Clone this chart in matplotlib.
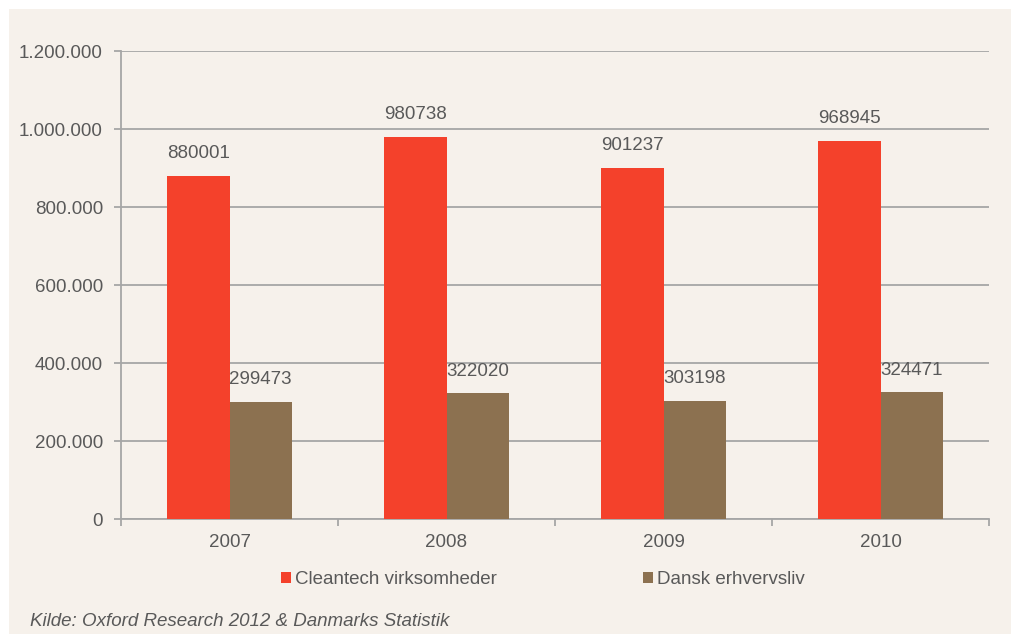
import numpy as np
import matplotlib.pyplot as plt
from matplotlib.patches import Rectangle
from matplotlib.ticker import FuncFormatter

# data
years = ["2007", "2008", "2009", "2010"]
cleantech = [880001, 980738, 901237, 968945]
dansk = [299473, 322020, 303198, 324471]
series_names = ["Cleantech virksomheder", "Dansk erhvervsliv"]

RED = "#F4412B"
BROWN = "#8C7150"
BG = "#F6F1EB"
TXT = "#595959"
GRID = "#A6A6A6"
FS = 13.5

plt.rcParams["font.family"] = ["Liberation Sans", "DejaVu Sans"]

fig = plt.figure(figsize=(10.11, 6.34), dpi=100)
fig.patch.set_facecolor("white")
# beige panel behind the chart
fig.patches.append(Rectangle((9 / 1011, 0), 1, 1 - 9 / 634, transform=fig.transFigure,
                             facecolor=BG, edgecolor="none", zorder=-1))

ax = fig.add_axes([121 / 1011, 1 - 519 / 634, 868 / 1011, 468 / 634])
ax.set_facecolor(BG)

x = np.arange(len(years))
w = 0.286
b1 = ax.bar(x - w / 2, cleantech, w, color=RED, label=series_names[0], zorder=3)
b2 = ax.bar(x + w / 2, dansk, w, color=BROWN, label=series_names[1], zorder=3)

for bars, vals in [(b1, cleantech), (b2, dansk)]:
    for rect, v in zip(bars, vals):
        ax.annotate(str(v), (rect.get_x() + rect.get_width() / 2, v),
                    xytext=(0, 10), textcoords="offset points",
                    ha="center", va="bottom", fontsize=FS, color=TXT, zorder=4)

ax.set_xlim(-0.5, len(years) - 0.5)
ax.set_ylim(0, 1200000)
ax.set_yticks(np.arange(0, 1200001, 200000))
ax.yaxis.set_major_formatter(FuncFormatter(lambda v, p: f"{int(v):,}".replace(",", ".")))
ax.grid(axis="y", color=GRID, linewidth=1.3, zorder=1)

# category labels in the middle, ticks on category boundaries
ax.set_xticks(x)
ax.set_xticklabels(years)
ax.set_xticks(np.arange(-0.5, len(years)), minor=True)
ax.tick_params(axis="x", which="major", length=0, labelsize=FS, labelcolor=TXT, pad=11)
ax.tick_params(axis="x", which="minor", length=5, width=1.3, color=GRID, direction="out")
ax.tick_params(axis="y", length=5, width=1.3, color=GRID, labelsize=FS, labelcolor=TXT, pad=8)

for s in ["top", "right"]:
    ax.spines[s].set_visible(False)
for s in ["left", "bottom"]:
    ax.spines[s].set_color(GRID)
    ax.spines[s].set_linewidth(1.3)

ax.legend(loc="center", bbox_to_anchor=(0.4856, -0.130), ncol=2, frameon=False,
          fontsize=FS, labelcolor=TXT, handlelength=0.55, handleheight=0.55,
          handletextpad=0.2, columnspacing=7.8)

fig.text(30 / 1011, 1 - 622 / 634, "Kilde: Oxford Research 2012 & Danmarks Statistik",
         fontsize=FS, style="italic", color=TXT, va="center", ha="left")

fig.savefig("out.png", dpi=100, facecolor=fig.get_facecolor())
